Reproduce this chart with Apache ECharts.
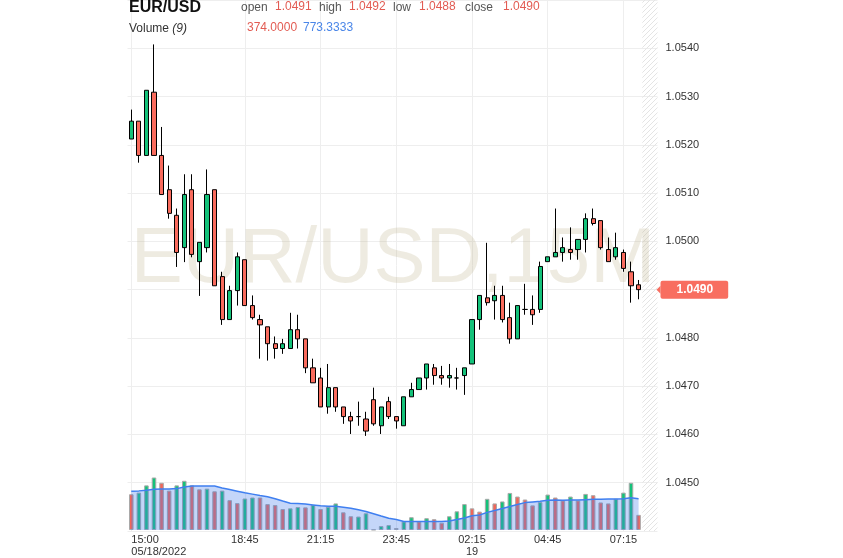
<!DOCTYPE html>
<html>
<head>
<meta charset="utf-8">
<script src="https://cdn.jsdelivr.net/npm/echarts@6/dist/echarts.min.js"></script>
<style>
  html, body { margin: 0; padding: 0; background: #fff; }
  #chart { width: 843px; height: 558px; }
</style>
</head>
<body>
<div id="chart"></div>
<script>
const symbolName = 'EUR/USD';
const periodName = '15M';
const maPeriod = 9;

// 15 minute slots, the last two are the empty "future" area
const times = [
  '15:00', '15:15', '15:30', '15:45', '16:00', '16:15', '16:30', '16:45', '17:00', '17:15',
  '17:30', '17:45', '18:00', '18:15', '18:30', '18:45', '19:00', '19:15', '19:30', '19:45',
  '20:00', '20:15', '20:30', '20:45', '21:00', '21:15', '21:30', '21:45', '22:00', '22:15',
  '22:30', '22:45', '23:00', '23:15', '23:30', '23:45', '00:00', '00:15', '00:30', '00:45',
  '01:00', '01:15', '01:30', '01:45', '02:00', '02:15', '02:30', '02:45', '03:00', '03:15',
  '03:30', '03:45', '04:00', '04:15', '04:30', '04:45', '05:00', '05:15', '05:30', '05:45',
  '06:00', '06:15', '06:30', '06:45', '07:00', '07:15', '07:30', '07:45', '08:00', '08:15'
];

const tickIndex = [0, 15, 25, 35, 45, 55, 65];
const tickDate = ['05/18/2022', '', '', '', '19', '', ''];

// [open, close, low, high]
const candles = [
  [1.05212, 1.05249, 1.05212, 1.05273],
  [1.05249, 1.05178, 1.05163, 1.05249],
  [1.05178, 1.05313, 1.05178, 1.05313],
  [1.05309, 1.05178, 1.05178, 1.05408],
  [1.05178, 1.05097, 1.05097, 1.05237],
  [1.05107, 1.05058, 1.05047, 1.05157],
  [1.05054, 1.04977, 1.04947, 1.05068],
  [1.04987, 1.05097, 1.04957, 1.05139],
  [1.05107, 1.04973, 1.04967, 1.05139],
  [1.04958, 1.04998, 1.04887, 1.04998],
  [1.04987, 1.05097, 1.04977, 1.05149],
  [1.05107, 1.04908, 1.04908, 1.05107],
  [1.04927, 1.04838, 1.04827, 1.04937],
  [1.04838, 1.04898, 1.04838, 1.04908],
  [1.04898, 1.04968, 1.04867, 1.04977],
  [1.04962, 1.04867, 1.04867, 1.04962],
  [1.04867, 1.04842, 1.04838, 1.04888],
  [1.04838, 1.04827, 1.04757, 1.04848],
  [1.04823, 1.04788, 1.04753, 1.04823],
  [1.04788, 1.04778, 1.04757, 1.04803],
  [1.04778, 1.04788, 1.04767, 1.04798],
  [1.04778, 1.04817, 1.04778, 1.04852],
  [1.04817, 1.04798, 1.04778, 1.04848],
  [1.04798, 1.04738, 1.04727, 1.04798],
  [1.04738, 1.04707, 1.04707, 1.04757],
  [1.04717, 1.04657, 1.04657, 1.04738],
  [1.04657, 1.04697, 1.04643, 1.04746],
  [1.04697, 1.04657, 1.04647, 1.04697],
  [1.04657, 1.04637, 1.04622, 1.04657],
  [1.04637, 1.04628, 1.04601, 1.04647],
  [1.04637, 1.04637, 1.04618, 1.04668],
  [1.04632, 1.04607, 1.04597, 1.04647],
  [1.04672, 1.04622, 1.04618, 1.04697],
  [1.04618, 1.04657, 1.04601, 1.04657],
  [1.04668, 1.04637, 1.04632, 1.04678],
  [1.04637, 1.04628, 1.04612, 1.04637],
  [1.04618, 1.04678, 1.04618, 1.04678],
  [1.04678, 1.04693, 1.04678, 1.04707],
  [1.04693, 1.04717, 1.04693, 1.04717],
  [1.04717, 1.04746, 1.04693, 1.04746],
  [1.04738, 1.04722, 1.04703, 1.04746],
  [1.04722, 1.04717, 1.04703, 1.04742],
  [1.04717, 1.04722, 1.04697, 1.04746],
  [1.04717, 1.04717, 1.04693, 1.04738],
  [1.04722, 1.04738, 1.04682, 1.04738],
  [1.04746, 1.04838, 1.04746, 1.04838],
  [1.04838, 1.04888, 1.04817, 1.04888],
  [1.04883, 1.04873, 1.04867, 1.04997],
  [1.04877, 1.04888, 1.04838, 1.04908],
  [1.04888, 1.04838, 1.04832, 1.04908],
  [1.04842, 1.04798, 1.04788, 1.04873],
  [1.04798, 1.04867, 1.04798, 1.04867],
  [1.04859, 1.04859, 1.04848, 1.04912],
  [1.04859, 1.04848, 1.04827, 1.04888],
  [1.04859, 1.04948, 1.04852, 1.04958],
  [1.04958, 1.04968, 1.04958, 1.04968],
  [1.04968, 1.04977, 1.04968, 1.05068],
  [1.04977, 1.04987, 1.04958, 1.05008],
  [1.04983, 1.04977, 1.04962, 1.05029],
  [1.04983, 1.05004, 1.04962, 1.05004],
  [1.05004, 1.05047, 1.04977, 1.05058],
  [1.05047, 1.05037, 1.05033, 1.05068],
  [1.05043, 1.04987, 1.04983, 1.05043],
  [1.04983, 1.04958, 1.04958, 1.05008],
  [1.04968, 1.04987, 1.04962, 1.05018],
  [1.04977, 1.04944, 1.04937, 1.04983],
  [1.04937, 1.04908, 1.04873, 1.04958],
  [1.0491, 1.0490, 1.0488, 1.0492]
];

const volumes = [
  883, 923, 1102, 1296, 1166, 972, 1102, 1215, 1102, 1004,
  1021, 956, 972, 737, 664, 778, 802, 802, 640, 616,
  518, 535, 567, 559, 616, 518, 575, 656, 437, 340,
  332, 413, 8, 97, 122, 49, 211, 316, 211, 292,
  267, 178, 340, 462, 640, 535, 454, 770, 656, 705,
  915, 826, 753, 608, 689, 875, 802, 729, 826, 729,
  891, 859, 680, 656, 770, 923, 1166, 374
];

// 1 = up bar, 0 = down bar
const volumeUp = [
  0, 1, 1, 1, 0, 0, 1, 1, 0, 0,
  1, 0, 1, 0, 0, 1, 1, 0, 0, 0,
  0, 1, 1, 0, 1, 0, 1, 1, 0, 0,
  1, 1, 1, 1, 1, 0, 1, 1, 0, 1,
  0, 0, 1, 1, 1, 0, 0, 1, 0, 1,
  1, 0, 0, 0, 1, 1, 0, 0, 1, 0,
  1, 0, 0, 0, 1, 1, 1, 0
];

const volumeMA = [
  958, 966, 982, 1006, 1014, 1014, 1022, 1063, 1087, 1087,
  1087, 1087, 1038, 998, 958, 918, 886, 853, 821, 773,
  716, 660, 652, 644, 620, 596, 588, 588, 564, 539,
  499, 459, 403, 346, 290, 258, 209, 209, 209, 209,
  209, 209, 225, 258, 298, 354, 370, 435, 483, 531,
  580, 628, 676, 692, 708, 733, 741, 733, 741, 741,
  749, 757, 757, 765, 765, 773, 797, 773.3333
];

const priceMin = 1.0440;
const priceMax = 1.0550;

const upColor = '#14c27a';
const downColor = '#f96b5d';
const fontFamily = 'Arial, "Liberation Sans", sans-serif';

const chart = echarts.init(document.getElementById('chart'));
const lastIndex = candles.length - 1;
const last = candles[lastIndex];

const showTick = (index) => tickIndex.includes(index);

const option = {
  animation: false,
  backgroundColor: '#fff',
  textStyle: { fontFamily },
  grid: [
    { left: 127.5, right: 185.5, top: 0, bottom: 27 },
    { left: 127.5, right: 185.5, height: 82, bottom: 27 }
  ],
  xAxis: [
    {
      type: 'category', gridIndex: 0, data: times, boundaryGap: true,
      axisLine: { show: false }, axisTick: { show: false }, axisLabel: { show: false },
      splitLine: { show: true, interval: showTick, alignWithLabel: true, lineStyle: { color: '#eeeeee' } }
    },
    {
      type: 'category', gridIndex: 1, data: times, boundaryGap: true,
      axisLine: { show: false }, axisTick: { show: false }, splitLine: { show: false },
      axisLabel: {
        interval: showTick, color: '#333', fontSize: 11, margin: 4, lineHeight: 12,
        alignMinLabel: 'left',
        formatter: (value, index) => {
          const k = tickIndex.indexOf(index);
          return k >= 0 && tickDate[k] ? value + '\n' + tickDate[k] : value;
        }
      }
    }
  ],
  yAxis: [
    {
      type: 'value', gridIndex: 0, position: 'right', min: priceMin, max: priceMax, interval: 0.001,
      axisLine: { show: false }, axisTick: { show: false },
      axisLabel: {
        color: '#333', fontSize: 11, margin: 8, showMinLabel: false, showMaxLabel: false,
        formatter: (v) => v.toFixed(4)
      },
      splitLine: { lineStyle: { color: '#eeeeee' } }
    },
    { type: 'value', gridIndex: 1, min: 0, max: 2000, show: false }
  ],
  series: [
    {
      type: 'candlestick', xAxisIndex: 0, yAxisIndex: 0, data: candles, barWidth: '62%',
      itemStyle: { color: upColor, color0: downColor, borderColor: '#000', borderColor0: '#000', borderWidth: 1 }
    },
    {
      type: 'bar', xAxisIndex: 1, yAxisIndex: 1, data: volumes, barWidth: '60%',
      itemStyle: {
        color: (p) => (volumeUp[p.dataIndex] ? upColor : '#f0665a'),
        borderColor: '#a9a9a9', borderWidth: 1
      }
    },
    {
      type: 'line', xAxisIndex: 1, yAxisIndex: 1, data: volumeMA, symbol: 'none',
      lineStyle: { color: '#3f7ff0', width: 1.5 },
      areaStyle: { color: 'rgba(70,125,235,0.45)' }
    }
  ]
};

chart.setOption(option);

// hatched area right of the last candle
const hatch = document.createElement('canvas');
hatch.width = 5;
hatch.height = 5;
const ctx = hatch.getContext('2d');
ctx.strokeStyle = '#e4e4e4';
ctx.lineWidth = 1;
ctx.beginPath();
ctx.moveTo(0, 5);
ctx.lineTo(5, 0);
ctx.stroke();

const step = chart.convertToPixel({ xAxisIndex: 0 }, times[1]) - chart.convertToPixel({ xAxisIndex: 0 }, times[0]);
const futureStart = chart.convertToPixel({ xAxisIndex: 0 }, times[lastIndex]) + step / 2;
const futureEnd = chart.convertToPixel({ xAxisIndex: 0 }, times[times.length - 1]) + step / 2;
const plotBottom = chart.convertToPixel({ yAxisIndex: 0 }, priceMin);
const lastY = chart.convertToPixel({ yAxisIndex: 0 }, last[1]);
const tagX = futureEnd + 3;
const tagColor = '#f86e60';

const valueStyle = { fontSize: 12, fontFamily, fill: '#e25b52', verticalAlign: 'middle' };
const nameStyle = { fontSize: 12, fontFamily, fill: '#555', verticalAlign: 'middle' };

chart.setOption({
  graphic: [
    {
      type: 'rect', z: 0, silent: true,
      shape: { x: futureStart, y: 0, width: futureEnd - futureStart, height: plotBottom },
      style: { fill: { type: 'pattern', image: hatch, repeat: 'repeat' } }
    },
    {
      type: 'text', z: 0, silent: true, x: 393, y: 260,
      style: {
        text: symbolName + ',' + periodName, fontSize: 78, fontFamily,
        fill: 'rgba(185,170,130,0.24)', align: 'center', verticalAlign: 'middle'
      }
    },
    // last price tag
    {
      type: 'polygon', z: 10, silent: true,
      shape: { points: [[tagX - 4, lastY], [tagX, lastY - 4], [tagX, lastY + 4]] },
      style: { fill: tagColor }
    },
    {
      type: 'text', z: 10, silent: true, x: tagX, y: lastY,
      style: {
        text: last[1].toFixed(4), fontSize: 12, fontWeight: 'bold', fontFamily, fill: '#fff',
        verticalAlign: 'middle', backgroundColor: tagColor, borderRadius: 2, padding: [3, 15, 3, 16]
      }
    },
    { type: 'text', x: 129, y: 8, style: { text: symbolName, fontSize: 16, fontWeight: 'bold', fontFamily, fill: '#111', verticalAlign: 'middle' } },
    { type: 'text', x: 241, y: 8, style: Object.assign({ text: 'open' }, nameStyle) },
    { type: 'text', x: 275, y: 7, style: Object.assign({ text: last[0].toFixed(4) }, valueStyle) },
    { type: 'text', x: 319, y: 8, style: Object.assign({ text: 'high' }, nameStyle) },
    { type: 'text', x: 349, y: 7, style: Object.assign({ text: last[3].toFixed(4) }, valueStyle) },
    { type: 'text', x: 393, y: 8, style: Object.assign({ text: 'low' }, nameStyle) },
    { type: 'text', x: 419, y: 7, style: Object.assign({ text: last[2].toFixed(4) }, valueStyle) },
    { type: 'text', x: 465, y: 8, style: Object.assign({ text: 'close' }, nameStyle) },
    { type: 'text', x: 503, y: 7, style: Object.assign({ text: last[1].toFixed(4) }, valueStyle) },
    {
      type: 'text', x: 129, y: 29,
      style: {
        text: 'Volume {i|(' + maPeriod + ')}', fontSize: 12, fontFamily, fill: '#333', verticalAlign: 'middle',
        rich: { i: { fontStyle: 'italic', fontSize: 12, fontFamily, fill: '#333' } }
      }
    },
    { type: 'text', x: 247, y: 28, style: Object.assign({ text: volumes[lastIndex].toFixed(4) }, valueStyle) },
    { type: 'text', x: 303, y: 28, style: Object.assign({}, valueStyle, { text: volumeMA[lastIndex].toFixed(4), fill: '#4a86e8' }) }
  ]
});
</script>
</body>
</html>
